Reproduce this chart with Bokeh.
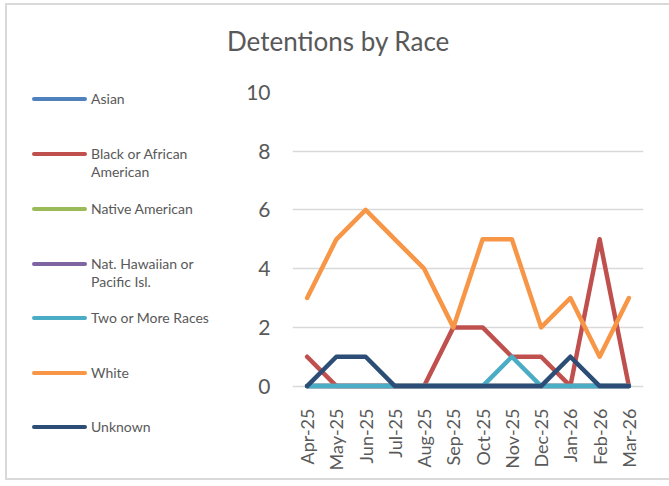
from bokeh.plotting import figure
from bokeh.layouts import row, column
from bokeh.models import Range1d, FixedTicker, Div
from bokeh.embed import file_html
from bokeh.resources import INLINE
from math import pi

months = ["Apr-25", "May-25", "Jun-25", "Jul-25", "Aug-25", "Sep-25",
          "Oct-25", "Nov-25", "Dec-25", "Jan-26", "Feb-26", "Mar-26"]
asian = [0, 0, 0, 0, 0, 0, 0, 0, 0, 0, 0, 0]
black = [1, 0, 0, 0, 0, 2, 2, 1, 1, 0, 5, 0]
native = [0, 0, 0, 0, 0, 0, 0, 0, 0, 0, 0, 0]
hawaiian = [0, 0, 0, 0, 0, 0, 0, 0, 0, 0, 0, 0]
two_more = [0, 0, 0, 0, 0, 0, 0, 1, 0, 0, 0, 0]
white = [3, 5, 6, 5, 4, 2, 5, 5, 2, 3, 1, 3]
unknown = [0, 1, 1, 0, 0, 0, 0, 0, 0, 1, 0, 0]
y_ticks = [0, 2, 4, 6, 8, 10]
title_text = "Detentions by Race"

series = [
    ("Asian", asian, "#4F81BD"),
    ("Black or African\nAmerican", black, "#C0504D"),
    ("Native American", native, "#9BBB59"),
    ("Nat. Hawaiian or\nPacific Isl.", hawaiian, "#8064A2"),
    ("Two or More Races", two_more, "#4BACC6"),
    ("White", white, "#F79646"),
    ("Unknown", unknown, "#2C4D75"),
]

FONT = "Lato"
TXT = "#595959"
GRID = "#D9D9D9"
BORDER = "2px solid #D9D9D9"

# ---- main chart ----
p = figure(x_range=months, y_range=Range1d(-0.15, 10), title=None,
           width=442, height=410, output_backend="svg", toolbar_location=None,
           min_border_left=65, min_border_right=26, min_border_top=22, min_border_bottom=90)
p.margin = (0, 0, 0, 0)
p.styles = {"border-bottom": BORDER}
p.outline_line_color = None
p.xgrid.grid_line_color = None
p.ygrid.grid_line_color = GRID
p.ygrid.grid_line_width = 1.5
p.yaxis.ticker = FixedTicker(ticks=y_ticks)

for ax in (p.xaxis[0], p.yaxis[0]):
    ax.axis_line_color = None
    ax.major_tick_line_color = None
    ax.minor_tick_line_color = None
    ax.major_label_text_color = TXT
    ax.major_label_text_font = FONT
p.yaxis.major_label_text_font_size = "21px"
p.yaxis.major_label_standoff = 16
p.xaxis.major_label_text_font_size = "18px"
p.xaxis.major_label_orientation = pi / 2
p.xaxis.major_label_standoff = 12

for name, vals, color in series:
    p.line(months, vals, line_color=color, line_width=4.5, line_join="round", line_cap="round")

# ---- title ----
title = Div(text=(f'<div style="position:relative;width:442px;height:65px;">'
                  f'<div style="position:absolute;left:0px;top:21px;font-family:{FONT};'
                  f'font-size:26px;line-height:30px;color:{TXT};white-space:nowrap;">'
                  f'{title_text}</div></div>'),
            width=442, height=67, margin=(3, 0, 0, 0),
            styles={"border-top": BORDER})

# ---- legend ----
item_y = [94, 149, 204, 259, 313, 368, 422]
parts = []
for (name, vals, color), yy in zip(series, item_y):
    parts.append(f'<div style="position:absolute;left:25px;top:{yy - 2}px;width:55px;height:4px;'
                 f'border-radius:2px;background:{color};"></div>')
    parts.append(f'<div style="position:absolute;left:84px;top:{yy - 9}px;line-height:18px;'
                 f'white-space:nowrap;">{name.replace(chr(10), "<br>")}</div>')
legend = Div(text=(f'<div style="position:relative;width:220px;height:473px;font-family:{FONT};'
                   f'font-size:14px;color:{TXT};">' + "".join(parts) + '</div>'),
             width=222, height=477, margin=(3, 0, 0, 5),
             styles={"border-left": BORDER, "border-top": BORDER, "border-bottom": BORDER})

right = column(title, p, spacing=0)
right.margin = (0, 0, 0, 0)
layout = row(legend, right, spacing=0)
layout.margin = (0, 0, 0, 0)
open("out.html", "w").write(file_html(layout, INLINE))
